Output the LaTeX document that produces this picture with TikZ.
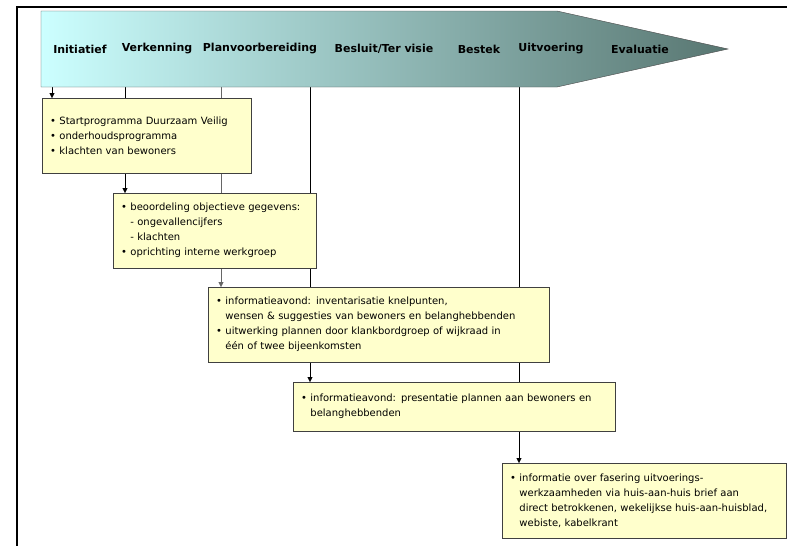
\documentclass[tikz,border=0pt]{standalone}
\usepackage{fontspec}
\setmainfont{DejaVu Sans}
\usetikzlibrary{arrows.meta}

\pgfdeclarelayer{background}
\pgfsetlayers{background,main}

\definecolor{boxgeel}{RGB}{255,255,204}
\definecolor{faselicht}{RGB}{204,255,255}
\definecolor{fasedonker}{RGB}{88,118,113}

\newcommand{\bul}{\textbullet\ }
\newcommand{\ind}{\phantom{\textbullet\ }}

\begin{document}
\begin{tikzpicture}[x=1pt,y=-1pt,
 fase/.style={font=\bfseries\fontsize{11}{13}\selectfont},
 infobox/.style={rectangle,draw=black!75,fill=boxgeel,anchor=north west,
   inner xsep=8pt,inner ysep=0pt,align=left,minimum height=75pt,
   font=\fontsize{10}{15}\selectfont},
 pijl/.style={-{Triangle[length=5pt,width=5pt]}}]
\useasboundingbox (0,0) rectangle (787,546);

\draw[line width=2pt] (17,546) -- (17,7) -- (787,7);

\shade[left color=faselicht,right color=fasedonker,draw=black!70]
 (41,11) -- (557,11) -- (728,49) -- (557,87) -- (41,87) -- cycle;
\node[fase] (init) at (80,49) {Initiatief};
\node[fase] (verk) at (157,49) {Verkenning};
\node[fase] (plan) at (260,49) {Planvoorbereiding};
\node[fase] (besl) at (384,49) {Besluit/Ter visie};
\node[fase] (best) at (479,49) {Bestek};
\node[fase] (uitv) at (551,49) {Uitvoering};
\node[fase] (eval) at (640,49) {Evaluatie};

\node[infobox,text width=193pt] (box1) at (42,98)
 {\bul Startprogramma Duurzaam Veilig\\ \bul onderhoudsprogramma\\ \bul klachten van bewoners};
\node[infobox,text width=187pt] (box2) at (113,193)
 {\mbox{\bul beoordeling objectieve gegevens:}\\ \ind- ongevallencijfers\\ \ind- klachten\\ \bul oprichting interne werkgroep};
\node[infobox,text width=325pt] (box3) at (208,287)
 {\bul informatieavond: inventarisatie knelpunten,\\ \ind wensen \& suggesties van bewoners en belanghebbenden\\ \bul uitwerking plannen door klankbordgroep of wijkraad in\\ \ind één of twee bijeenkomsten};
\node[infobox,text width=306pt,minimum height=49pt] (box4) at (293,382)
 {\bul informatieavond: presentatie plannen aan bewoners en\\ \ind belanghebbenden};
\node[infobox,text width=268pt] (box5) at (502,463)
 {\bul informatie over fasering uitvoerings-\\ \ind werkzaamheden via huis-aan-huis brief aan\\ \mbox{\ind direct betrokkenen, wekelijkse huis-aan-huisblad,}\\ \ind webiste, kabelkrant};

\coordinate (l1) at (52,87);
\coordinate (l2) at (125,87);
\coordinate (l3) at (221,87);
\coordinate (l4) at (310,87);
\coordinate (l5) at (519,87);

\begin{pgfonlayer}{background}
\draw[pijl] (l1) -- (l1 |- box1.north);
\draw[pijl] (l2) -- (l2 |- box2.north);
\draw[pijl,black!60] (l3) -- (l3 |- box3.north);
\draw[pijl] (l4) -- (l4 |- box4.north);
\draw[pijl] (l5) -- (l5 |- box5.north);
\end{pgfonlayer}
\end{tikzpicture}
\end{document}
